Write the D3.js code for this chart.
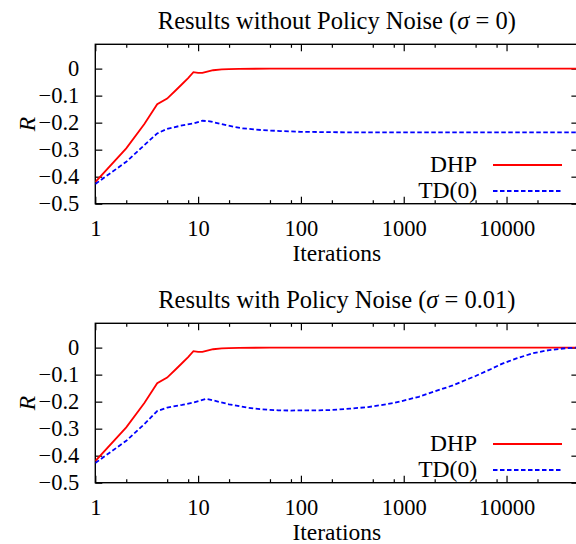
<!DOCTYPE html>
<html>
<head>
<meta charset="utf-8">
<script src="https://cdn.jsdelivr.net/npm/d3@7"></script>
<style>
  body { margin: 0; background: #fff; }
  svg { display: block; }
  text { font-family: "Liberation Serif", "DejaVu Serif", serif; fill: #000; }
</style>
</head>
<body>
<div id="chart"></div>
<script>
// iterations (x) and R values
const itersDhp   = [1, 2, 3, 4, 5, 6, 7, 8, 9, 10, 11, 12, 14, 17, 20, 25, 50, 100, 1000, 10000, 50000];
const dhpNoNoise = [-0.42, -0.295, -0.205, -0.132, -0.111, -0.082, -0.057, -0.035, -0.013, -0.016, -0.016, -0.012, -0.006, -0.003, -0.002, -0.001, 0, 0, 0, 0, 0];
const dhpNoise   = [-0.42, -0.295, -0.205, -0.132, -0.111, -0.082, -0.057, -0.035, -0.013, -0.016, -0.016, -0.012, -0.006, -0.003, -0.002, -0.001, 0, 0, 0, 0, 0];

const itersTdA  = [1, 2, 3, 4, 5, 7, 9, 11, 13, 19, 27, 43, 63, 100, 300, 1000, 10000, 50000];
const tdNoNoise = [-0.427, -0.345, -0.283, -0.24, -0.223, -0.21, -0.203, -0.193, -0.195, -0.21, -0.221, -0.228, -0.231, -0.234, -0.236, -0.236, -0.236, -0.236];

const itersTdB = [1, 2, 3, 4, 5, 7, 9, 12, 15, 20, 30, 40, 60, 80, 100, 150, 200, 300, 450, 600, 800, 1000, 1400, 2000, 3000, 4000, 5000, 7000, 9000, 12500, 18000, 26000, 38000, 50000];
const tdNoise  = [-0.427, -0.345, -0.283, -0.235, -0.222, -0.212, -0.203, -0.19, -0.198, -0.21, -0.222, -0.228, -0.232, -0.233, -0.232, -0.232, -0.231, -0.226, -0.22, -0.213, -0.205, -0.196, -0.182, -0.162, -0.14, -0.12, -0.105, -0.08, -0.06, -0.04, -0.021, -0.009, -0.002, 0];

const xMajor = [1, 10, 100, 1000, 10000];
const xMinor = [2, 5, 8, 20, 50, 80, 200, 500, 800, 2000, 5000, 8000, 20000];
const yTicks = [0, -0.1, -0.2, -0.3, -0.4, -0.5];
const legendNames = ["DHP", "TD(0)"];

const W = 576, H = 544;
const left = 95.3, right = 578.4;
const plotH = 159.4;

const svg = d3.select("#chart").append("svg")
    .attr("width", W)
    .attr("height", H);

const x = d3.scaleLog()
    .domain([1, 50000])
    .range([left, right]);

function panel(top, id, titleMain, sigmaVal, dhp, tdIters, td) {
    const y = d3.scaleLinear()
        .domain([-0.5, 0.09])
        .range([top + plotH, top]);
    const g = svg.append("g");

    g.append("clipPath").attr("id", id)
        .append("rect")
        .attr("x", left).attr("y", top)
        .attr("width", right - left).attr("height", plotH);

    // bottom axis, ticks pointing inward
    g.append("g")
        .attr("transform", `translate(0, ${top + plotH})`)
        .call(d3.axisBottom(x).tickValues(xMajor).tickSize(-7).tickPadding(16)
            .tickFormat(d3.format("d")));
    g.append("g")
        .attr("transform", `translate(0, ${top + plotH})`)
        .call(d3.axisBottom(x).tickValues(xMinor).tickSize(-3.5).tickFormat(""));
    // mirrored top ticks
    g.append("g")
        .attr("transform", `translate(0, ${top})`)
        .call(d3.axisTop(x).tickValues(xMajor).tickSize(-7).tickFormat(""));
    g.append("g")
        .attr("transform", `translate(0, ${top})`)
        .call(d3.axisTop(x).tickValues(xMinor).tickSize(-3.5).tickFormat(""));
    // y axis left + mirrored right
    g.append("g")
        .attr("transform", `translate(${left}, 0)`)
        .call(d3.axisLeft(y).tickValues(yTicks).tickSize(-7).tickPadding(16)
            .tickFormat(d => d === 0 ? "0" : d3.format(".1f")(d)));
    g.append("g")
        .attr("transform", `translate(${right}, 0)`)
        .call(d3.axisRight(y).tickValues(yTicks).tickSize(-7).tickFormat(""));

    g.selectAll(".domain").remove();
    g.selectAll(".tick line").attr("stroke", "#000").attr("stroke-width", 1.2);
    g.selectAll(".tick text").attr("font-size", "22.5px")
        .style("font-family", "'Liberation Serif', serif");

    // frame
    g.append("rect")
        .attr("x", left).attr("y", top)
        .attr("width", right - left).attr("height", plotH)
        .attr("fill", "none")
        .attr("stroke", "#000")
        .attr("stroke-width", 1.4);

    const line = d3.line()
        .x(d => x(d[0]))
        .y(d => y(d[1]));

    const lines = g.append("g").attr("clip-path", `url(#${id})`);
    lines.append("path")
        .datum(itersDhp.map((v, i) => [v, dhp[i]]))
        .attr("fill", "none")
        .attr("stroke", "#ff0000")
        .attr("stroke-width", 1.8)
        .attr("d", line);
    lines.append("path")
        .datum(tdIters.map((v, i) => [v, td[i]]))
        .attr("fill", "none")
        .attr("stroke", "#0000ff")
        .attr("stroke-width", 1.8)
        .attr("stroke-dasharray", "4.5,2.5")
        .attr("d", line);

    // legend
    const legY = [top + 120.7, top + 146.7];
    legendNames.forEach((name, i) => {
        g.append("text")
            .attr("x", 477)
            .attr("y", legY[i] + 6.5)
            .attr("text-anchor", "end")
            .attr("font-size", "23.5px")
            .text(name);
        g.append("line")
            .attr("x1", 493).attr("x2", 562)
            .attr("y1", legY[i]).attr("y2", legY[i])
            .attr("stroke", i === 0 ? "#ff0000" : "#0000ff")
            .attr("stroke-width", 1.8)
            .attr("stroke-dasharray", i === 0 ? null : "4.5,2.5");
    });

    // title
    const t = g.append("text")
        .attr("x", (left + right) / 2)
        .attr("y", top - 15)
        .attr("text-anchor", "middle")
        .attr("font-size", "24.5px");
    t.append("tspan").text(titleMain + " (");
    t.append("tspan").attr("font-style", "italic").text("σ");
    t.append("tspan").text(" = " + sigmaVal + ")");

    // axis labels
    g.append("text")
        .attr("x", (left + right) / 2)
        .attr("y", top + plotH + 57)
        .attr("text-anchor", "middle")
        .attr("font-size", "23.5px")
        .text("Iterations");
    g.append("text")
        .attr("transform", `translate(35, ${top + plotH / 2}) rotate(-90)`)
        .attr("text-anchor", "middle")
        .attr("font-size", "23.5px")
        .attr("font-style", "italic")
        .text("R");
}

panel(44.3, "clipA", "Results without Policy Noise", "0", dhpNoNoise, itersTdA, tdNoNoise);
panel(323.3, "clipB", "Results with Policy Noise", "0.01", dhpNoise, itersTdB, tdNoise);
</script>
</body>
</html>
